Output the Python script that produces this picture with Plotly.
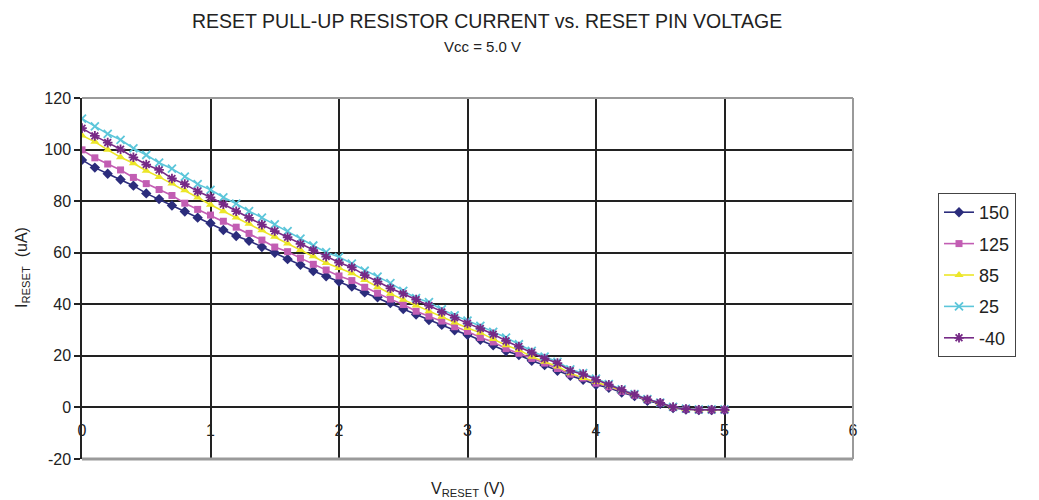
import plotly.graph_objects as go

v_reset = [0.0, 0.1, 0.2, 0.3, 0.4, 0.5, 0.6, 0.7, 0.8, 0.9,
           1.0, 1.1, 1.2, 1.3, 1.4, 1.5, 1.6, 1.7, 1.8, 1.9,
           2.0, 2.1, 2.2, 2.3, 2.4, 2.5, 2.6, 2.7, 2.8, 2.9,
           3.0, 3.1, 3.2, 3.3, 3.4, 3.5, 3.6, 3.7, 3.8, 3.9,
           4.0, 4.1, 4.2, 4.3, 4.4, 4.5, 4.6, 4.7, 4.8, 4.9, 5.0]

i_150 = [96.0, 93.0, 90.6, 88.4, 86.0, 83.0, 80.8, 78.3, 76.0, 73.6,
         71.4, 68.8, 66.5, 64.6, 62.2, 60.0, 57.5, 55.3, 52.9, 50.9,
         48.8, 46.9, 44.6, 42.7, 40.5, 38.2, 36.0, 33.9, 32.0, 29.9,
         28.2, 26.2, 24.1, 21.9, 20.3, 18.1, 16.4, 14.2, 12.3, 10.7,
         8.8, 7.6, 5.8, 4.4, 2.6, 1.4, -0.2, -0.8, -1.0, -1.0, -1.0]

i_125 = [99.9, 96.8, 94.4, 92.1, 89.2, 86.8, 84.5, 82.2, 79.2, 76.8,
         74.6, 72.2, 69.9, 67.5, 64.9, 62.2, 60.4, 57.9, 55.5, 53.3,
         51.0, 49.2, 46.6, 44.3, 42.0, 39.9, 37.3, 35.4, 33.5, 31.3,
         29.5, 27.1, 25.4, 22.8, 21.0, 19.0, 17.2, 15.1, 12.9, 11.4,
         9.4, 8.0, 6.2, 4.7, 2.9, 1.8, 0.0, -0.6, -0.9, -0.9, -0.9]

i_85 = [105.5, 103.0, 99.9, 97.0, 94.7, 91.8, 89.4, 86.8, 84.2, 81.4,
        78.6, 76.1, 73.7, 71.2, 68.7, 66.2, 63.6, 61.1, 58.6, 56.0,
        54.1, 52.0, 49.4, 46.6, 44.1, 41.8, 39.5, 37.3, 35.2, 32.9,
        30.8, 29.0, 26.5, 24.1, 22.3, 19.7, 17.7, 15.9, 13.3, 11.4,
        9.9, 8.3, 6.5, 4.9, 3.0, 1.7, 0.0, -0.6, -0.9, -0.9, -0.9]

i_25 = [112.0, 109.0, 106.1, 103.8, 100.5, 97.9, 94.9, 92.6, 89.5, 86.6,
        84.4, 81.5, 79.0, 76.1, 73.6, 71.0, 68.4, 65.5, 62.8, 60.2,
        58.3, 55.8, 53.0, 50.7, 48.2, 45.2, 42.4, 40.8, 38.0, 35.7,
        33.7, 31.6, 29.3, 27.1, 24.5, 21.9, 19.7, 17.7, 14.8, 13.3,
        11.2, 9.0, 7.0, 5.2, 3.2, 1.9, 0.2, -0.5, -0.8, -0.8, -0.8]

i_m40 = [108.3, 105.3, 102.7, 100.1, 97.0, 94.2, 92.1, 88.8, 86.6, 83.8,
         81.5, 78.8, 76.1, 73.5, 70.9, 68.4, 66.0, 63.4, 61.0, 58.5,
         56.2, 54.3, 51.3, 48.8, 46.2, 44.1, 41.8, 39.5, 37.0, 34.8,
         32.6, 30.6, 28.4, 25.8, 23.6, 21.3, 19.0, 17.2, 14.2, 12.9,
         10.7, 8.8, 6.8, 5.0, 3.1, 1.8, 0.1, -0.6, -0.9, -0.9, -0.9]

series_names = ["150", "125", "85", "25", "-40"]
series_values = [i_150, i_125, i_85, i_25, i_m40]
colors = ["#2B2C7C", "#C25DB3", "#ECE628", "#5CC6DA", "#762A86"]
symbols = ["diamond", "square", "triangle-up", "x-thin", "asterisk"]
sizes = [8, 7, 8, 8, 8]

x_ticks = [0, 1, 2, 3, 4, 5, 6]
y_ticks = [-20, 0, 20, 40, 60, 80, 100, 120]

FONT = "Liberation Sans, Arial, sans-serif"

fig = go.Figure()
for name, vals, col, sym, sz in zip(series_names, series_values, colors, symbols, sizes):
    open_sym = sym in ("x-thin", "asterisk")
    fig.add_trace(go.Scatter(
        x=v_reset, y=vals, name=name, mode="lines+markers",
        line=dict(color=col, width=1.6),
        marker=dict(symbol=sym, size=sz, color=col,
                    line=dict(color=col, width=1.8 if open_sym else 0)),
        legendgroup=name,
    ))

# The page body has an 8px margin, so the figure is placed 8px in from the
# window's corner; all pixel positions below are in figure coordinates.
OFF = 8
W, H = 1039 - OFF, 500 - OFF
L, R, T, B = 82 - OFF, 853 - OFF, 98 - OFF, 459 - OFF


def px(x):
    return (x - OFF - L) / (R - L)


def py(y):
    return (B - (y - OFF)) / (B - T)


fig.update_layout(
    width=W, height=H,
    margin=dict(l=L, r=W - R, t=T, b=H - B),
    paper_bgcolor="white", plot_bgcolor="white",
    font=dict(family=FONT, size=16, color="#222"),
    showlegend=True,
    legend=dict(
        x=px(938), y=py(275),
        xanchor="left", yanchor="middle",
        bordercolor="#444", borderwidth=1, bgcolor="white",
        font=dict(family=FONT, size=18, color="#222"),
        tracegroupgap=5,
    ),
    xaxis=dict(
        range=[0, 6], tickvals=x_ticks, ticktext=[str(t) for t in x_ticks],
        showgrid=True, gridcolor="#222", gridwidth=1.5,
        zeroline=False, showline=False,
        anchor="free", position=20 / 140,
        ticks="", ticklabelstandoff=12,
        tickfont=dict(family=FONT, size=16, color="#222"),
    ),
    yaxis=dict(
        range=[-20, 120], tickvals=y_ticks, ticktext=[str(t) for t in y_ticks],
        showgrid=True, gridcolor="#222", gridwidth=1.5,
        zeroline=False, showline=True, linecolor="#222", linewidth=1.5,
        ticks="outside", ticklen=6, tickcolor="#222", tickwidth=1.5,
        tickfont=dict(family=FONT, size=16, color="#222"),
    ),
    shapes=[
        dict(type="line", xref="paper", yref="paper", x0=0, x1=1, y0=1, y1=1,
             line=dict(color="#9a9a9a", width=2), layer="above"),
        dict(type="line", xref="paper", yref="paper", x0=1, x1=1, y0=0, y1=1,
             line=dict(color="#9a9a9a", width=2), layer="above"),
        dict(type="line", xref="paper", yref="paper", x0=0, x1=1, y0=0, y1=0,
             line=dict(color="#9a9a9a", width=3), layer="above"),
    ],
    annotations=[
        dict(text="RESET PULL-UP RESISTOR CURRENT vs. RESET PIN VOLTAGE",
             xref="paper", yref="paper", x=px(487), y=py(21),
             xanchor="center", yanchor="middle", showarrow=False,
             font=dict(family=FONT, size=19.5, color="#222")),
        dict(text="Vcc = 5.0 V",
             xref="paper", yref="paper", x=px(482), y=py(46),
             xanchor="center", yanchor="middle", showarrow=False,
             font=dict(family=FONT, size=15, color="#222")),
        dict(text="V<sub>RESET</sub> (V)",
             xref="paper", yref="paper", x=px(468), y=py(489),
             xanchor="center", yanchor="middle", showarrow=False,
             font=dict(family=FONT, size=16, color="#222")),
        dict(text="I<sub>RESET</sub>  (uA)", textangle=-90,
             xref="paper", yref="paper", x=px(22), y=py(268),
             xanchor="center", yanchor="middle", showarrow=False,
             font=dict(family=FONT, size=16, color="#222")),
    ],
)

fig.write_html("out.html")
